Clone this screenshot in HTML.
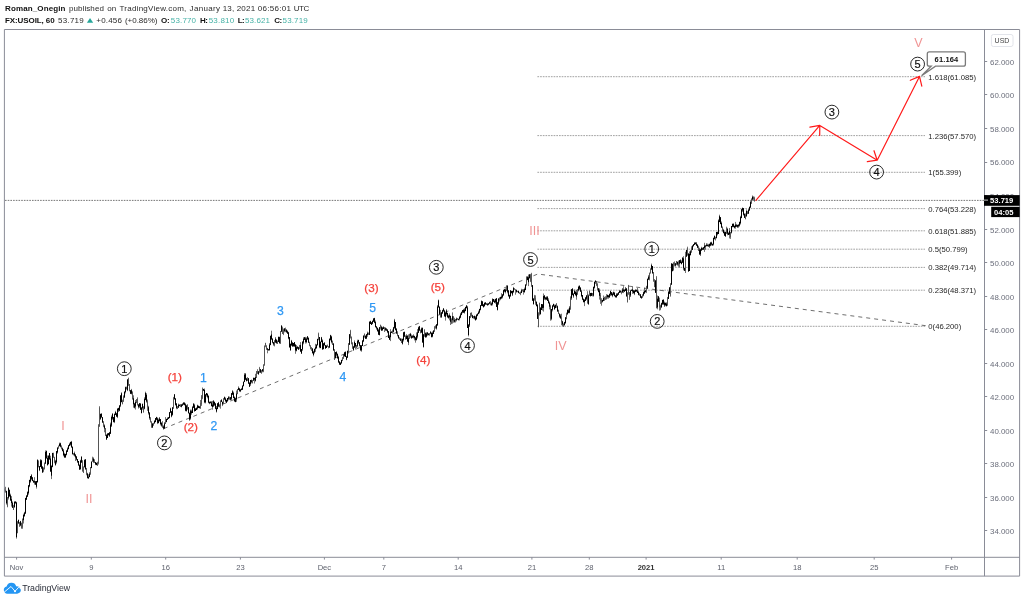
<!DOCTYPE html>
<html><head><meta charset="utf-8"><title>FX:USOIL chart</title><style>
html,body{margin:0;padding:0;background:#fff}
body{width:1024px;height:601px;position:relative;overflow:hidden;font-family:"Liberation Sans",sans-serif}
#chart{position:absolute;left:0;top:0}
.hs{position:absolute;white-space:pre;font-size:8px;color:#2a2a2a;line-height:10px}
.hb{font-weight:bold;color:#111}
.hs.g{color:#45b1a6}
.hd b{color:#222}
.hd .g{color:#3dafa3}
.hd span{position:absolute;top:0}
svg text{font-family:"Liberation Sans",sans-serif}
.fib{stroke:#979797;stroke-width:0.9;stroke-dasharray:1.7 1}
.cur{stroke:#555;stroke-width:1;stroke-dasharray:1.6 1.1;stroke-opacity:0.8}
.fibt{font-size:7.7px;fill:#262626}
.trend{fill:none;stroke:#4a4a4a;stroke-width:0.8;stroke-dasharray:4 4}
.bd{fill:none;stroke:#000;stroke-width:1}
.bl{fill:none;stroke:#555;stroke-width:1}
.wk{fill:none;stroke:#000;stroke-opacity:0.55;stroke-width:1}
.arr{fill:none;stroke:#ff1a1a;stroke-width:1.2;stroke-linecap:round}
.cc{fill:#fff;fill-opacity:0;stroke:#111;stroke-width:0.9}
.ct{font-size:11px;fill:#111;stroke:#111;stroke-width:0.2;text-anchor:middle}
.rt{font-size:11.7px;fill:#f5413a;stroke:#f5413a;stroke-width:0.25;text-anchor:middle}
.bt{font-size:12.2px;fill:#2f98f4;stroke:#2f98f4;stroke-width:0.25;text-anchor:middle}
.ro{font-size:12.5px;fill:#f09494;text-anchor:middle}
.co{fill:#fff;stroke:#7a7a7a;stroke-width:1.3}
.cot{font-size:7.5px;letter-spacing:0.15px;font-weight:bold;fill:#111;text-anchor:middle}
.fr{fill:none;stroke:#8a8c97;stroke-width:1}
.tk{stroke:#8a8c97;stroke-width:1}
.ax{font-size:7.9px;fill:#6b6e7b}
.axm{font-size:7.6px;fill:#5d606c;text-anchor:middle}
.b{font-weight:bold;fill:#333}
.usd{fill:#fff;stroke:#e2e4ea;stroke-width:1}
.usdt{font-size:7px;fill:#444;text-anchor:middle}
.pb{font-size:7.6px;font-weight:bold;fill:#fff;text-anchor:middle}
.tv{position:absolute;left:22.2px;top:583.2px;font-size:8.8px;line-height:11px;color:#2a2e39;letter-spacing:-0.05px}
</style></head><body>
<svg id="chart" width="1024" height="601" viewBox="0 0 1024 601"><line x1="537.4" x2="925" y1="76.7" y2="76.7" class="fib"/><text x="928.3" y="79.6" class="fibt">1.618(61.085)</text><line x1="537.4" x2="925" y1="135.6" y2="135.6" class="fib"/><text x="928.3" y="138.5" class="fibt">1.236(57.570)</text><line x1="537.4" x2="925" y1="172.3" y2="172.3" class="fib"/><text x="928.3" y="175.2" class="fibt">1(55.399)</text><line x1="537.4" x2="925" y1="208.6" y2="208.6" class="fib"/><text x="928.3" y="211.5" class="fibt">0.764(53.228)</text><line x1="537.4" x2="925" y1="230.8" y2="230.8" class="fib"/><text x="928.3" y="233.7" class="fibt">0.618(51.885)</text><line x1="537.4" x2="925" y1="249.2" y2="249.2" class="fib"/><text x="928.3" y="252.1" class="fibt">0.5(50.799)</text><line x1="537.4" x2="925" y1="267.4" y2="267.4" class="fib"/><text x="928.3" y="270.3" class="fibt">0.382(49.714)</text><line x1="537.4" x2="925" y1="290.2" y2="290.2" class="fib"/><text x="928.3" y="293.1" class="fibt">0.236(48.371)</text><line x1="537.4" x2="925" y1="326.3" y2="326.3" class="fib"/><text x="928.3" y="329.2" class="fibt">0(46.200)</text><line x1="5" x2="984" y1="200.4" y2="200.4" class="cur"/><path d="M163.8 428.6L537.8 274L928 326" class="trend"/><path d="M4.5 487.8V492.5M5.5 486.8V492.7M6.5 490.9V504.6M7.5 497.2V507.3M8.5 487.2V499.5M9.5 489.8V496.7M10.5 493.7V501.0M11.5 496.1V506.6M12.5 501.4V507.8M13.5 504.9V510.0M14.5 501.2V507.5M15.5 501.5V503.8M16.5 501.8V538.6M17.5 521.1V533.3M18.5 519.8V524.0M19.5 522.3V526.6M20.5 520.9V526.2M21.5 522.6V528.5M22.5 518.4V528.8M23.5 513.7V523.5M24.5 511.8V516.8M25.5 497.8V513.6M26.5 495.5V499.7M27.5 491.4V496.7M28.5 485.3V494.7M29.5 479.7V487.2M30.5 476.1V482.7M31.5 474.1V480.2M32.5 477.3V481.2M33.5 480.5V482.5M34.5 477.2V484.6M35.5 481.0V485.0M36.5 481.0V488.6M37.5 459.2V482.3M38.5 460.3V467.2M39.5 466.2V471.1M40.5 459.1V466.9M41.5 459.7V469.0M42.5 466.0V472.6M43.5 467.4V472.2M44.5 462.6V469.3M45.5 450.4V463.7M46.5 450.5V458.4M47.5 455.5V465.5M48.5 455.5V464.2M49.5 453.0V459.7M50.5 455.7V471.8M51.5 465.7V479.1M52.5 452.8V467.3M53.5 452.7V457.6M54.5 456.8V463.3M55.5 459.9V465.7M56.5 451.1V463.6M57.5 447.4V453.6M58.5 445.7V448.8M59.5 442.6V446.2M60.5 442.7V447.4M61.5 445.4V449.4M62.5 447.5V451.2M63.5 449.0V456.3M64.5 452.8V457.5M65.5 453.9V457.5M66.5 450.5V455.4M67.5 447.4V451.8M68.5 445.2V449.2M69.5 442.8V446.1M70.5 441.9V445.6M71.5 440.9V447.5M72.5 446.2V454.7M73.5 453.3V455.4M74.5 451.6V456.5M75.5 454.5V461.0M76.5 456.4V460.3M77.5 459.1V463.0M78.5 461.0V465.9M79.5 464.4V469.8M80.5 459.8V469.7M81.5 456.6V462.6M82.5 460.1V471.7M83.5 466.4V472.8M84.5 459.4V467.4M85.5 459.3V469.4M86.5 467.9V475.3M87.5 472.8V478.5M88.5 474.3V478.5M89.5 472.2V477.1M90.5 467.0V474.9M91.5 461.6V468.1M92.5 456.7V461.7M93.5 457.4V463.1M94.5 459.2V463.0M95.5 462.1V465.1M96.5 462.6V465.1M97.5 461.7V466.0M98.5 424.1V464.5M99.5 406.2V426.8M100.5 413.6V419.9M101.5 413.6V417.5M102.5 417.2V422.6M103.5 421.4V427.2M104.5 424.4V432.3M105.5 428.1V435.9M106.5 434.7V440.0M107.5 433.5V438.1M108.5 433.1V435.5M109.5 431.9V437.0M110.5 422.6V433.8M111.5 415.5V427.0M112.5 413.3V419.8M113.5 417.1V422.4M114.5 413.7V423.1M115.5 410.8V414.9M116.5 412.8V416.6M117.5 408.6V418.1M118.5 407.9V412.0M119.5 405.4V411.2M120.5 395.4V407.1M121.5 392.3V402.4M122.5 399.6V404.2M123.5 395.4V401.7M124.5 391.4V398.0M125.5 386.6V393.4M126.5 386.8V389.3M127.5 379.2V391.1M128.5 377.7V385.8M129.5 384.1V391.2M130.5 390.2V393.8M131.5 388.9V394.4M132.5 391.3V399.5M133.5 395.3V407.7M134.5 402.9V408.4M135.5 400.0V409.6M136.5 399.0V403.1M137.5 397.3V405.3M138.5 404.4V408.6M139.5 403.2V407.9M140.5 403.2V409.7M141.5 407.0V413.2M142.5 403.6V409.7M143.5 406.1V412.7M144.5 397.3V409.3M145.5 391.7V400.2M146.5 393.2V402.6M147.5 399.5V410.9M148.5 405.8V414.6M149.5 412.0V419.7M150.5 417.4V422.3M151.5 421.2V427.9M152.5 423.0V427.9M153.5 422.9V425.7M154.5 420.3V423.5M155.5 418.1V422.1M156.5 416.8V420.2M157.5 417.5V424.1M158.5 418.6V423.4M159.5 417.0V421.5M160.5 419.1V425.4M161.5 422.3V426.7M162.5 421.1V427.9M163.5 425.3V429.6M164.5 422.1V428.5M165.5 417.1V423.9M166.5 418.8V422.1M167.5 417.3V419.9M168.5 417.2V418.9M169.5 412.2V418.3M170.5 407.7V412.7M171.5 411.3V417.3M172.5 407.1V415.6M173.5 396.9V408.9M174.5 394.3V399.8M175.5 398.4V405.6M176.5 403.1V409.2M177.5 406.3V409.1M178.5 403.6V407.7M179.5 404.5V406.3M180.5 404.1V406.8M181.5 404.3V407.4M182.5 403.2V405.8M183.5 402.0V404.6M184.5 402.6V405.2M185.5 403.3V411.3M186.5 404.9V411.6M187.5 404.5V409.7M188.5 407.2V413.3M189.5 412.8V420.8M190.5 409.5V419.7M191.5 409.7V414.7M192.5 406.1V413.0M193.5 403.4V407.8M194.5 403.8V411.9M195.5 408.3V411.0M196.5 407.3V410.1M197.5 404.7V409.6M198.5 405.8V408.0M199.5 406.4V408.2M200.5 400.0V408.9M201.5 395.0V405.9M202.5 387.5V399.2M203.5 388.8V391.1M204.5 388.5V403.2M205.5 394.4V403.4M206.5 393.0V396.6M207.5 393.7V398.3M208.5 395.7V403.2M209.5 401.8V404.2M210.5 401.6V403.5M211.5 401.1V406.2M212.5 400.9V409.7M213.5 400.0V407.0M214.5 401.6V406.0M215.5 403.4V409.2M216.5 406.4V412.5M217.5 403.3V409.1M218.5 401.9V407.1M219.5 404.3V407.2M220.5 400.5V408.7M221.5 399.6V401.9M222.5 401.8V406.1M223.5 398.4V403.8M224.5 396.5V400.0M225.5 397.5V401.9M226.5 399.8V402.7M227.5 398.0V401.4M228.5 396.1V400.3M229.5 396.6V399.5M230.5 397.2V400.3M231.5 393.1V400.0M232.5 390.2V395.0M233.5 391.6V398.1M234.5 396.4V401.6M235.5 397.7V402.3M236.5 390.5V401.8M237.5 389.0V394.1M238.5 386.4V389.9M239.5 387.9V391.5M240.5 389.4V392.1M241.5 387.9V390.1M242.5 385.6V389.7M243.5 381.7V386.2M244.5 373.1V382.1M245.5 373.0V380.1M246.5 377.9V381.2M247.5 377.1V380.7M248.5 378.2V383.7M249.5 382.0V387.0M250.5 380.0V385.9M251.5 379.5V383.3M252.5 380.1V383.5M253.5 377.8V380.7M254.5 377.9V383.5M255.5 373.8V381.5M256.5 371.0V377.9M257.5 369.2V374.0M258.5 371.2V374.4M259.5 366.9V372.5M260.5 369.2V372.8M261.5 370.3V373.8M262.5 369.2V372.3M263.5 364.5V372.2M264.5 345.5V365.7M265.5 342.9V347.2M266.5 345.5V349.7M267.5 347.9V353.3M268.5 349.2V350.4M269.5 343.1V350.3M270.5 335.8V345.1M271.5 330.7V339.5M272.5 338.5V343.3M273.5 342.1V345.7M274.5 340.0V346.4M275.5 337.1V342.9M276.5 339.4V343.8M277.5 340.5V343.9M278.5 336.6V341.9M279.5 336.7V343.8M280.5 331.1V344.0M281.5 325.5V331.8M282.5 326.6V334.0M283.5 328.6V335.1M284.5 328.4V332.3M285.5 327.6V332.1M286.5 329.6V332.8M287.5 330.4V334.0M288.5 331.9V339.3M289.5 337.1V347.4M290.5 343.7V350.9M291.5 339.9V345.9M292.5 342.0V346.9M293.5 343.0V346.8M294.5 342.1V346.8M295.5 344.5V353.8M296.5 345.1V351.4M297.5 346.6V348.7M298.5 346.9V349.7M299.5 344.9V349.2M300.5 342.1V351.9M301.5 349.0V353.7M302.5 341.3V350.9M303.5 337.3V344.3M304.5 337.2V339.9M305.5 336.9V343.5M306.5 337.3V343.3M307.5 336.3V340.0M308.5 337.6V342.7M309.5 341.8V346.3M310.5 345.4V349.4M311.5 347.3V351.0M312.5 348.3V353.3M313.5 350.8V356.4M314.5 348.8V353.5M315.5 343.8V351.9M316.5 344.5V348.6M317.5 338.9V345.3M318.5 332.6V340.3M319.5 337.0V348.2M320.5 341.7V348.1M321.5 336.9V342.3M322.5 339.4V349.5M323.5 343.3V349.2M324.5 342.5V345.4M325.5 345.2V348.7M326.5 345.6V348.0M327.5 344.5V346.8M328.5 346.1V348.4M329.5 338.3V347.8M330.5 334.8V340.6M331.5 335.7V343.4M332.5 340.5V344.9M333.5 343.4V350.7M334.5 349.1V359.9M335.5 352.1V358.2M336.5 351.2V356.1M337.5 353.5V358.4M338.5 355.8V362.5M339.5 361.3V364.6M340.5 362.6V365.0M341.5 359.9V363.4M342.5 357.3V361.1M343.5 354.1V358.7M344.5 351.9V356.8M345.5 351.7V357.0M346.5 356.2V360.2M347.5 350.8V357.7M348.5 343.1V353.5M349.5 334.2V345.0M350.5 329.8V338.5M351.5 336.7V344.3M352.5 342.2V348.8M353.5 345.9V350.8M354.5 340.4V347.6M355.5 343.0V349.5M356.5 345.0V348.0M357.5 339.7V347.3M358.5 339.9V343.9M359.5 342.3V346.6M360.5 345.2V351.1M361.5 345.3V351.7M362.5 340.3V346.0M363.5 335.3V342.1M364.5 333.7V337.7M365.5 335.7V338.9M366.5 334.1V339.1M367.5 331.6V336.8M368.5 332.5V334.9M369.5 321.1V334.9M370.5 320.7V324.0M371.5 322.3V324.9M372.5 320.7V324.2M373.5 318.1V321.7M374.5 317.8V323.2M375.5 320.6V327.3M376.5 326.4V329.7M377.5 327.7V331.6M378.5 328.8V335.0M379.5 327.2V335.2M380.5 324.8V329.5M381.5 325.8V330.7M382.5 326.9V330.9M383.5 326.2V329.0M384.5 327.3V332.0M385.5 327.3V331.1M386.5 328.0V330.6M387.5 329.5V333.2M388.5 331.2V337.9M389.5 334.9V339.9M390.5 329.1V341.1M391.5 331.2V332.9M392.5 329.5V333.7M393.5 326.9V332.5M394.5 318.9V328.8M395.5 322.1V330.2M396.5 328.0V334.0M397.5 331.2V336.2M398.5 335.1V338.4M399.5 337.3V339.8M400.5 338.5V341.1M401.5 338.5V343.0M402.5 338.5V344.6M403.5 331.9V341.5M404.5 331.8V336.9M405.5 335.3V339.5M406.5 334.2V339.1M407.5 335.6V342.0M408.5 334.4V345.1M409.5 333.9V338.7M410.5 332.9V337.7M411.5 334.5V339.0M412.5 335.1V338.1M413.5 334.3V338.4M414.5 335.9V340.4M415.5 337.4V342.7M416.5 332.4V340.2M417.5 329.1V338.5M418.5 326.6V332.8M419.5 325.9V331.0M420.5 329.6V333.2M421.5 327.5V332.6M422.5 327.7V342.9M423.5 334.3V347.6M424.5 329.5V336.8M425.5 332.4V337.4M426.5 332.2V337.5M427.5 332.4V335.8M428.5 333.5V335.2M429.5 333.0V335.4M430.5 331.5V334.2M431.5 332.4V337.2M432.5 331.5V337.3M433.5 330.5V333.8M434.5 326.1V332.0M435.5 325.5V328.7M436.5 324.3V329.6M437.5 305.2V325.9M438.5 299.6V307.4M439.5 306.4V315.2M440.5 309.9V317.4M441.5 312.1V318.0M442.5 309.8V313.7M443.5 308.4V311.4M444.5 309.8V316.8M445.5 312.6V320.6M446.5 309.2V315.6M447.5 312.8V317.6M448.5 314.8V318.3M449.5 313.4V320.4M450.5 315.6V325.0M451.5 318.3V324.1M452.5 312.4V323.6M453.5 316.4V322.7M454.5 317.8V322.6M455.5 319.0V322.5M456.5 317.5V321.4M457.5 318.1V319.7M458.5 318.8V320.2M459.5 315.8V320.4M460.5 312.9V318.2M461.5 311.6V315.2M462.5 310.1V313.3M463.5 308.9V312.7M464.5 308.1V313.6M465.5 306.9V311.1M466.5 305.4V308.2M467.5 305.9V328.0M468.5 324.3V336.4M469.5 316.2V327.0M470.5 312.9V318.1M471.5 312.5V316.4M472.5 314.8V318.1M473.5 316.1V318.7M474.5 315.8V319.4M475.5 316.0V320.8M476.5 314.6V319.9M477.5 313.6V316.2M478.5 310.7V314.1M479.5 308.9V313.4M480.5 305.2V310.4M481.5 300.4V305.8M482.5 301.0V306.1M483.5 304.0V307.3M484.5 302.3V306.3M485.5 302.4V304.5M486.5 303.2V305.0M487.5 302.9V305.7M488.5 303.3V305.2M489.5 301.7V304.2M490.5 301.1V305.3M491.5 302.4V305.4M492.5 298.3V305.4M493.5 299.0V302.0M494.5 299.5V303.1M495.5 298.9V303.7M496.5 298.0V306.9M497.5 301.9V310.5M498.5 298.0V305.0M499.5 297.6V301.5M500.5 296.9V300.2M501.5 293.2V299.1M502.5 294.4V298.4M503.5 289.6V295.6M504.5 289.2V292.3M505.5 288.4V293.4M506.5 285.2V290.9M507.5 285.0V293.3M508.5 290.4V296.8M509.5 294.6V299.0M510.5 290.1V296.4M511.5 290.9V293.2M512.5 290.7V296.0M513.5 286.9V292.4M514.5 288.4V289.7M515.5 289.3V294.7M516.5 289.7V292.7M517.5 290.9V292.1M518.5 290.8V293.1M519.5 292.5V293.7M520.5 291.7V295.2M521.5 288.8V293.1M522.5 289.1V291.3M523.5 289.0V294.6M524.5 287.6V292.4M525.5 284.5V290.1M526.5 276.6V285.4M527.5 276.1V280.1M528.5 274.5V286.1M529.5 274.0V278.3M530.5 273.9V282.1M531.5 272.8V286.6M532.5 285.0V300.9M533.5 298.4V304.3M534.5 294.9V300.7M535.5 295.3V304.8M536.5 301.7V306.2M537.5 304.0V318.9M538.5 312.2V327.3M539.5 302.8V315.5M540.5 307.3V314.3M541.5 304.0V310.0M542.5 304.3V310.5M543.5 293.5V311.6M544.5 295.2V299.9M545.5 296.9V300.3M546.5 296.3V299.9M547.5 296.0V301.0M548.5 298.3V303.3M549.5 301.5V309.4M550.5 304.7V320.7M551.5 309.0V320.2M552.5 305.3V311.4M553.5 303.8V306.5M554.5 304.5V309.8M555.5 304.4V308.1M556.5 303.0V307.8M557.5 305.5V312.0M558.5 309.6V314.1M559.5 313.6V317.7M560.5 314.1V318.7M561.5 313.7V325.2M562.5 320.8V326.1M563.5 323.6V327.0M564.5 321.8V325.3M565.5 317.3V323.6M566.5 312.6V319.3M567.5 309.7V314.4M568.5 308.7V313.3M569.5 306.1V313.3M570.5 296.3V309.9M571.5 289.0V299.9M572.5 288.5V295.3M573.5 293.6V297.8M574.5 289.4V294.1M575.5 291.1V295.3M576.5 289.9V299.7M577.5 289.2V294.9M578.5 285.8V291.4M579.5 285.2V290.0M580.5 287.1V291.7M581.5 290.2V297.2M582.5 295.0V300.1M583.5 298.4V302.2M584.5 299.2V306.1M585.5 297.4V300.9M586.5 295.4V300.1M587.5 291.2V303.6M588.5 294.4V304.4M589.5 290.8V296.0M590.5 292.9V296.4M591.5 292.9V295.9M592.5 293.1V296.4M593.5 286.8V296.6M594.5 281.7V288.6M595.5 280.0V283.9M596.5 281.0V286.1M597.5 283.3V290.2M598.5 288.3V292.4M599.5 288.5V299.6M600.5 292.9V303.9M601.5 298.2V305.7M602.5 299.9V302.5M603.5 295.5V301.1M604.5 296.8V300.9M605.5 296.2V299.9M606.5 294.1V299.3M607.5 294.7V298.7M608.5 295.4V298.7M609.5 293.8V297.7M610.5 290.7V296.1M611.5 292.2V295.7M612.5 292.6V297.2M613.5 291.5V295.1M614.5 291.9V296.2M615.5 295.4V297.3M616.5 293.1V297.9M617.5 293.5V295.8M618.5 292.3V294.7M619.5 290.6V292.9M620.5 290.6V292.4M621.5 291.1V294.3M622.5 288.0V292.5M623.5 286.2V293.1M624.5 289.3V291.7M625.5 287.0V290.9M626.5 288.4V296.7M627.5 292.5V302.6M628.5 284.9V294.9M629.5 292.2V300.0M630.5 290.5V297.0M631.5 289.7V290.9M632.5 286.2V293.9M633.5 290.3V293.6M634.5 290.3V295.1M635.5 289.7V291.8M636.5 289.8V291.7M637.5 288.0V292.9M638.5 291.2V295.3M639.5 293.1V295.9M640.5 294.1V297.9M641.5 296.0V298.8M642.5 294.4V297.6M643.5 291.6V296.3M644.5 287.6V293.6M645.5 289.8V292.4M646.5 285.8V293.1M647.5 278.4V288.9M648.5 275.2V280.0M649.5 272.6V280.4M650.5 268.5V273.4M651.5 263.6V269.8M652.5 266.0V273.4M653.5 272.0V281.5M654.5 279.0V287.1M655.5 280.1V292.8M656.5 276.1V308.2M657.5 295.5V309.3M658.5 296.3V301.7M659.5 297.6V310.6M660.5 304.7V310.2M661.5 302.7V307.8M662.5 299.9V304.8M663.5 299.6V305.0M664.5 301.6V307.0M665.5 302.8V306.1M666.5 302.3V306.4M667.5 296.9V305.5M668.5 292.1V298.9M669.5 287.2V293.8M670.5 283.1V296.7M671.5 263.2V284.7M672.5 263.8V271.2M673.5 262.5V270.7M674.5 261.4V266.3M675.5 263.3V266.6M676.5 261.0V265.1M677.5 261.8V265.6M678.5 260.6V266.7M679.5 260.2V267.6M680.5 259.3V263.1M681.5 260.3V264.5M682.5 257.2V263.0M683.5 256.2V270.3M684.5 268.0V270.8M685.5 251.8V273.0M686.5 250.0V256.9M687.5 246.7V255.7M688.5 253.5V271.5M689.5 251.4V271.0M690.5 250.2V255.6M691.5 246.3V252.5M692.5 245.0V250.0M693.5 244.2V246.4M694.5 242.1V244.9M695.5 242.4V244.5M696.5 242.0V245.8M697.5 244.4V247.9M698.5 245.8V251.0M699.5 247.8V254.8M700.5 249.3V256.0M701.5 246.8V250.7M702.5 247.6V249.9M703.5 247.3V249.6M704.5 242.8V251.9M705.5 245.3V249.6M706.5 243.2V246.2M707.5 243.6V246.2M708.5 243.9V246.5M709.5 243.8V247.9M710.5 241.9V246.2M711.5 241.7V245.6M712.5 243.8V245.5M713.5 237.5V245.5M714.5 235.4V239.5M715.5 236.9V240.5M716.5 231.9V238.2M717.5 231.6V235.4M718.5 219.4V234.0M719.5 214.7V222.2M720.5 217.2V224.1M721.5 221.5V228.0M722.5 226.7V231.7M723.5 228.9V233.5M724.5 231.3V235.7M725.5 231.7V236.9M726.5 226.7V234.0M727.5 227.8V235.3M728.5 232.7V235.0M729.5 228.0V238.4M730.5 232.0V238.9M731.5 226.0V233.5M732.5 223.8V227.3M733.5 223.7V227.3M734.5 225.8V228.5M735.5 221.9V228.7M736.5 223.9V226.9M737.5 224.7V228.0M738.5 224.2V227.7M739.5 221.6V226.5M740.5 215.8V224.5M741.5 209.2V218.1M742.5 207.8V211.9M743.5 208.2V215.6M744.5 213.4V218.0M745.5 213.4V219.2M746.5 209.5V216.4M747.5 210.9V214.1M748.5 209.3V213.7M749.5 206.4V210.8M750.5 200.9V207.6M751.5 198.6V203.9M752.5 195.5V200.7M753.5 196.3V199.9M754.5 196.7V201.7" class="wk"/><path d="M5.5 490.1V491.8M7.5 497.2V506.4M13.5 506.5V510.0M17.5 521.9V532.9M19.5 522.3V526.6M21.5 523.0V528.4M22.5 519.0V527.4M38.5 461.1V467.2M43.5 467.8V471.1M44.5 462.8V469.3M53.5 453.2V457.6M54.5 457.2V462.1M58.5 445.7V448.4M61.5 445.8V448.8M73.5 453.3V454.7M82.5 461.3V471.2M83.5 466.9V472.8M86.5 468.2V474.3M90.5 467.0V474.0M92.5 458.2V461.7M94.5 460.4V462.9M97.5 462.4V465.0M98.5 425.2V463.2M99.5 407.5V426.4M103.5 421.4V426.2M105.5 428.1V435.9M122.5 400.6V404.2M123.5 396.7V401.6M126.5 386.8V389.3M128.5 378.5V385.4M129.5 384.1V391.2M132.5 392.1V399.3M136.5 399.2V402.9M137.5 398.5V405.3M143.5 407.0V412.1M147.5 401.2V407.3M150.5 417.4V422.3M151.5 421.8V427.2M153.5 422.9V425.4M162.5 424.9V427.3M165.5 420.5V423.9M173.5 398.2V408.3M177.5 406.3V408.9M180.5 404.7V406.8M187.5 404.5V408.9M200.5 403.1V408.2M201.5 396.2V404.4M202.5 388.7V397.8M219.5 404.8V407.2M220.5 400.5V405.8M223.5 398.4V403.3M229.5 397.5V399.5M237.5 389.0V394.1M247.5 378.6V380.7M252.5 380.4V383.0M256.5 371.3V377.9M257.5 371.2V373.2M259.5 368.2V372.5M261.5 370.3V373.1M263.5 364.5V371.4M264.5 345.8V365.3M265.5 342.9V346.3M266.5 345.5V349.5M274.5 341.0V345.5M277.5 341.0V343.8M280.5 331.1V343.1M282.5 327.8V333.7M283.5 329.7V333.8M285.5 328.9V331.3M299.5 345.4V348.3M309.5 341.9V345.7M310.5 345.4V348.7M311.5 347.3V349.4M318.5 333.7V339.8M327.5 345.3V346.8M328.5 346.1V347.6M332.5 341.2V344.9M334.5 349.7V359.8M342.5 357.4V360.8M343.5 354.8V358.7M348.5 343.6V352.0M350.5 330.7V337.6M351.5 336.7V344.1M352.5 343.0V348.4M356.5 345.0V347.6M364.5 333.7V337.0M368.5 332.9V334.5M380.5 324.8V328.0M384.5 327.3V328.7M392.5 330.9V332.8M397.5 332.5V336.2M399.5 337.6V339.6M401.5 339.2V343.0M405.5 336.2V339.5M409.5 333.9V338.7M420.5 329.9V333.2M424.5 329.5V335.7M429.5 333.2V335.4M434.5 326.9V331.0M435.5 325.6V327.8M440.5 313.1V317.4M451.5 319.4V323.2M453.5 316.4V320.8M455.5 319.0V321.1M457.5 318.5V319.7M470.5 312.9V317.2M471.5 312.7V316.4M473.5 316.1V317.6M486.5 303.2V305.0M490.5 302.5V304.1M499.5 297.6V300.1M506.5 286.0V290.8M514.5 288.4V289.7M515.5 289.3V290.8M517.5 290.9V292.1M519.5 292.5V293.7M520.5 291.8V294.2M522.5 290.1V291.3M526.5 276.6V285.4M530.5 275.2V281.1M531.5 273.9V286.6M534.5 296.2V299.7M535.5 298.1V302.8M538.5 313.3V326.8M539.5 302.8V314.0M550.5 306.0V319.4M556.5 304.0V306.4M558.5 310.0V313.9M561.5 317.4V322.2M563.5 323.7V325.8M566.5 313.3V319.0M570.5 297.6V309.0M577.5 289.2V294.2M587.5 294.1V303.3M589.5 290.8V295.5M592.5 293.1V295.3M596.5 281.4V285.0M597.5 283.8V289.8M600.5 295.0V301.0M601.5 300.1V303.0M604.5 297.3V299.7M605.5 297.7V299.5M606.5 296.3V299.3M621.5 291.9V293.1M627.5 292.5V302.0M628.5 286.1V294.0M629.5 292.2V298.8M639.5 293.9V295.1M642.5 294.5V297.6M646.5 286.6V291.7M649.5 272.9V279.1M650.5 268.5V273.4M653.5 272.1V281.5M654.5 280.1V287.1M656.5 277.5V308.2M659.5 300.3V307.4M660.5 305.8V309.0M667.5 297.5V305.5M670.5 284.3V295.7M673.5 262.5V269.9M674.5 262.7V264.9M676.5 261.0V263.9M678.5 262.6V265.3M685.5 255.6V270.7M687.5 248.1V255.2M691.5 248.6V252.5M698.5 246.7V250.8M715.5 236.9V239.5M722.5 226.7V230.5M726.5 228.1V233.1M730.5 232.3V237.1M745.5 214.9V219.2M747.5 211.9V214.1M751.5 198.6V203.3M753.5 197.1V199.0M754.5 198.1V200.7" class="bl"/><path d="M4.5 489.2V490.4M6.5 490.9V503.3M8.5 488.0V497.8M9.5 489.8V496.3M10.5 495.2V500.3M11.5 499.2V503.1M12.5 502.7V507.8M14.5 501.9V507.3M15.5 501.5V503.1M16.5 502.5V537.2M18.5 519.8V523.2M20.5 521.2V525.4M23.5 515.0V520.2M24.5 512.7V515.9M25.5 498.1V513.6M26.5 495.5V499.7M27.5 492.2V496.7M28.5 485.3V493.2M29.5 480.0V486.2M30.5 476.1V481.6M31.5 475.3V478.9M32.5 477.3V481.0M33.5 480.5V482.5M34.5 481.1V482.5M35.5 481.4V484.6M36.5 481.0V486.8M37.5 460.0V482.3M39.5 466.2V470.2M40.5 460.3V466.9M41.5 460.4V468.3M42.5 466.9V472.6M45.5 452.0V463.7M46.5 451.0V458.4M47.5 458.0V465.2M48.5 455.7V464.2M49.5 453.0V459.4M50.5 458.5V471.5M51.5 465.7V475.7M52.5 453.0V466.9M55.5 461.2V464.9M56.5 451.1V462.2M57.5 447.6V452.4M59.5 443.7V446.2M60.5 443.3V446.7M62.5 448.3V451.2M63.5 450.6V455.2M64.5 454.0V457.5M65.5 453.9V457.5M66.5 450.5V454.8M67.5 448.5V451.8M68.5 445.3V449.2M69.5 444.0V446.1M70.5 441.9V444.6M71.5 441.8V447.4M72.5 447.0V454.0M74.5 453.1V455.5M75.5 454.5V457.5M76.5 456.4V459.5M77.5 459.1V461.8M78.5 461.0V465.3M79.5 464.9V469.6M80.5 460.6V469.1M81.5 456.6V462.6M84.5 460.1V467.2M85.5 459.3V469.4M87.5 473.6V477.9M88.5 476.8V478.5M89.5 473.7V477.1M91.5 461.6V468.1M93.5 458.7V461.6M95.5 462.1V464.4M96.5 463.0V465.1M100.5 414.0V418.9M101.5 413.6V417.4M102.5 417.2V422.6M104.5 425.5V428.5M106.5 434.7V439.4M107.5 433.5V438.0M108.5 433.1V435.1M109.5 432.4V435.8M110.5 424.5V433.8M111.5 417.0V425.7M112.5 413.8V418.6M113.5 417.1V421.9M114.5 413.8V421.9M115.5 412.0V414.9M116.5 413.4V416.6M117.5 408.6V416.8M118.5 407.9V410.4M119.5 405.4V410.7M120.5 395.4V405.7M121.5 393.3V402.0M124.5 391.7V397.3M125.5 387.2V392.0M127.5 379.5V390.2M130.5 390.2V393.8M131.5 390.2V393.7M133.5 398.3V404.3M134.5 403.6V407.7M135.5 401.9V406.5M138.5 404.4V407.2M139.5 403.2V406.4M140.5 403.7V409.7M141.5 407.8V413.2M142.5 403.9V408.2M144.5 398.9V408.7M145.5 392.9V399.9M146.5 394.8V401.5M148.5 407.2V413.2M149.5 412.8V418.2M152.5 423.8V427.5M154.5 420.8V423.4M155.5 418.1V422.1M156.5 417.1V419.7M157.5 418.4V422.8M158.5 420.0V423.0M159.5 418.4V421.1M160.5 419.1V424.0M161.5 422.8V425.7M163.5 426.5V428.6M164.5 423.5V428.5M166.5 419.0V422.1M167.5 418.4V419.9M168.5 417.2V418.9M169.5 412.2V418.0M170.5 408.5V412.7M171.5 411.3V416.5M172.5 407.4V414.8M174.5 394.3V399.0M175.5 398.4V404.9M176.5 403.6V407.9M178.5 404.7V407.7M179.5 404.8V406.0M181.5 404.5V406.8M182.5 404.2V405.6M183.5 402.9V404.6M184.5 402.6V405.2M185.5 404.3V410.7M186.5 405.6V410.9M188.5 407.2V413.3M189.5 412.8V419.7M190.5 410.6V418.5M191.5 411.3V413.1M192.5 407.2V413.0M193.5 403.6V407.8M194.5 405.3V410.9M195.5 408.5V411.0M196.5 408.0V410.0M197.5 405.4V408.5M198.5 405.8V408.0M199.5 406.4V408.2M203.5 389.0V390.6M204.5 389.9V402.3M205.5 394.4V402.4M206.5 393.0V395.0M207.5 393.7V396.9M208.5 395.7V402.5M209.5 401.8V403.4M210.5 401.6V403.0M211.5 402.3V406.2M212.5 404.6V407.1M213.5 401.2V405.9M214.5 401.9V404.8M215.5 403.4V408.8M216.5 407.9V411.6M217.5 403.3V409.1M218.5 402.6V406.1M221.5 399.6V401.9M222.5 401.8V404.5M224.5 397.1V399.3M225.5 398.5V401.2M226.5 399.9V402.7M227.5 398.0V401.4M228.5 397.2V398.9M230.5 397.2V399.8M231.5 393.2V398.7M232.5 391.3V394.6M233.5 392.9V398.1M234.5 397.2V401.3M235.5 398.3V402.0M236.5 393.6V399.4M238.5 387.9V389.9M239.5 388.6V391.3M240.5 389.4V391.2M241.5 388.9V390.1M242.5 385.6V389.7M243.5 381.7V386.2M244.5 374.7V381.9M245.5 374.2V379.6M246.5 378.5V381.2M248.5 378.2V383.7M249.5 383.0V386.7M250.5 380.0V384.2M251.5 380.3V381.9M253.5 377.8V380.7M254.5 377.9V379.6M255.5 377.1V380.8M258.5 371.3V374.4M260.5 369.2V372.5M262.5 369.2V371.2M267.5 348.5V349.8M268.5 349.2V350.4M269.5 344.6V350.3M270.5 335.8V345.1M271.5 334.5V339.5M272.5 338.6V342.5M273.5 342.1V344.4M275.5 338.7V342.4M276.5 339.8V343.0M278.5 336.9V341.9M279.5 337.1V343.0M281.5 325.5V331.7M284.5 328.4V331.1M286.5 329.6V332.2M287.5 331.2V333.5M288.5 332.4V338.4M289.5 337.1V347.4M290.5 343.8V350.1M291.5 340.8V345.3M292.5 342.8V346.3M293.5 343.0V346.1M294.5 342.1V346.3M295.5 344.5V350.5M296.5 347.2V350.7M297.5 346.6V348.6M298.5 347.3V349.7M300.5 345.1V351.5M301.5 349.0V353.6M302.5 341.7V349.4M303.5 338.8V342.7M304.5 337.2V339.9M305.5 338.4V342.0M306.5 338.7V342.1M307.5 336.3V339.1M308.5 337.8V342.7M312.5 348.5V353.3M313.5 351.7V355.0M314.5 348.8V352.4M315.5 347.2V349.2M316.5 344.6V348.2M317.5 338.9V345.3M319.5 337.0V347.2M320.5 341.7V348.1M321.5 337.4V342.0M322.5 340.5V349.5M323.5 343.3V349.1M324.5 342.5V345.4M325.5 345.2V348.6M326.5 345.6V348.0M329.5 338.9V347.5M330.5 335.2V339.9M331.5 336.6V342.1M333.5 343.5V350.4M335.5 352.1V358.2M336.5 352.1V354.6M337.5 353.9V358.4M338.5 357.1V362.5M339.5 361.6V364.6M340.5 362.6V364.9M341.5 359.9V363.4M344.5 352.4V356.0M345.5 351.7V357.0M346.5 356.5V359.7M347.5 350.8V357.7M349.5 334.2V344.7M353.5 346.6V350.1M354.5 342.0V347.6M355.5 343.0V346.4M357.5 341.1V345.8M358.5 339.9V342.6M359.5 342.3V345.7M360.5 345.2V350.1M361.5 345.4V350.4M362.5 340.5V346.0M363.5 335.8V341.3M365.5 335.7V338.7M366.5 334.3V338.4M367.5 332.9V335.0M369.5 322.0V334.9M370.5 321.2V324.0M371.5 322.3V324.9M372.5 320.8V323.7M373.5 318.6V321.7M374.5 318.1V322.7M375.5 322.0V327.2M376.5 326.4V328.3M377.5 327.8V331.2M378.5 330.1V334.6M379.5 327.2V335.2M381.5 326.9V330.6M382.5 327.8V330.1M383.5 327.2V329.0M385.5 328.2V329.9M386.5 329.2V330.6M387.5 329.5V332.2M388.5 331.2V337.9M389.5 336.4V339.7M390.5 332.2V337.2M391.5 331.7V332.9M393.5 327.4V331.8M394.5 320.5V327.9M395.5 322.1V330.2M396.5 329.1V333.3M398.5 335.3V338.4M400.5 338.5V340.7M402.5 339.0V343.8M403.5 332.4V340.1M404.5 331.8V336.6M406.5 335.8V339.1M407.5 335.6V341.4M408.5 338.1V342.6M410.5 333.8V336.1M411.5 336.1V338.0M412.5 336.1V337.6M413.5 335.7V337.2M414.5 335.9V338.3M415.5 337.4V340.1M416.5 335.8V340.2M417.5 332.3V336.6M418.5 327.4V332.8M419.5 326.2V330.4M421.5 328.5V332.6M422.5 327.8V342.3M423.5 334.3V346.9M425.5 333.2V337.4M426.5 333.5V336.7M427.5 332.4V334.6M428.5 333.5V335.2M430.5 331.6V333.5M431.5 332.9V337.2M432.5 332.9V336.5M433.5 330.5V333.8M436.5 324.3V328.5M437.5 306.6V325.2M438.5 300.4V307.4M439.5 306.8V313.9M441.5 312.4V316.9M442.5 310.3V313.5M443.5 308.4V311.4M444.5 310.7V316.1M445.5 312.6V316.9M446.5 310.4V314.1M447.5 312.9V317.2M448.5 315.8V318.3M449.5 315.2V317.4M450.5 316.0V321.8M452.5 316.2V320.2M454.5 319.8V321.8M456.5 318.6V320.2M458.5 318.8V320.2M459.5 316.8V319.1M460.5 314.4V317.6M461.5 312.1V314.9M462.5 310.1V312.5M463.5 309.9V312.7M464.5 309.6V312.5M465.5 306.9V311.1M466.5 305.4V308.2M467.5 307.4V328.0M468.5 324.6V335.0M469.5 316.2V325.5M472.5 315.3V318.1M474.5 315.8V318.4M475.5 317.4V320.0M476.5 314.6V319.0M477.5 313.6V315.6M478.5 312.2V314.1M479.5 308.9V312.4M480.5 305.2V309.8M481.5 301.1V305.8M482.5 301.5V306.1M483.5 304.6V307.3M484.5 303.0V306.3M485.5 302.4V304.5M487.5 304.0V305.2M488.5 303.3V304.7M489.5 302.2V303.6M491.5 303.5V305.4M492.5 299.3V304.1M493.5 299.0V301.6M494.5 300.8V302.6M495.5 298.9V302.2M496.5 298.3V306.9M497.5 302.4V309.9M498.5 298.9V303.7M500.5 296.9V299.0M501.5 296.5V298.2M502.5 294.4V297.2M503.5 290.2V295.4M504.5 289.2V291.4M505.5 289.7V292.0M507.5 286.0V291.9M508.5 290.4V296.0M509.5 295.2V298.4M510.5 290.4V296.4M511.5 290.9V293.2M512.5 291.0V294.6M513.5 288.0V292.4M516.5 289.9V291.9M518.5 290.8V293.1M521.5 290.2V293.0M523.5 290.6V291.8M524.5 289.0V292.3M525.5 284.5V290.1M527.5 277.1V280.1M528.5 277.5V282.2M529.5 274.5V278.3M532.5 285.2V300.6M533.5 298.5V304.3M536.5 301.7V306.2M537.5 305.1V318.9M540.5 307.7V314.3M541.5 304.0V310.0M542.5 304.3V308.0M543.5 296.1V307.8M544.5 295.5V298.5M545.5 297.6V299.2M546.5 297.4V299.5M547.5 297.1V300.9M548.5 300.3V303.3M549.5 302.7V306.7M551.5 309.0V318.8M552.5 305.5V309.8M553.5 303.9V306.5M554.5 305.8V309.2M555.5 305.0V308.1M557.5 306.2V311.2M559.5 313.7V316.5M560.5 315.6V318.4M562.5 321.4V324.5M564.5 322.1V325.3M565.5 317.3V323.2M567.5 309.8V314.4M568.5 310.3V312.9M569.5 307.6V312.7M571.5 289.3V298.3M572.5 288.5V294.9M573.5 293.6V296.4M574.5 290.9V294.0M575.5 292.0V295.3M576.5 292.6V296.5M578.5 286.9V290.3M579.5 286.0V288.8M580.5 287.8V291.7M581.5 291.4V296.1M582.5 295.1V299.5M583.5 299.0V302.2M584.5 299.8V302.2M585.5 297.4V300.9M586.5 295.4V298.8M588.5 295.5V304.4M590.5 293.0V296.2M591.5 292.9V295.9M593.5 286.8V295.7M594.5 281.8V287.7M595.5 281.0V282.2M598.5 288.3V291.9M599.5 290.5V295.8M602.5 299.9V301.8M603.5 298.0V300.9M607.5 294.9V297.1M608.5 295.4V297.2M609.5 293.8V297.4M610.5 291.1V294.5M611.5 292.2V295.0M612.5 293.8V295.8M613.5 292.1V294.6M614.5 292.9V296.2M615.5 295.4V297.3M616.5 294.4V297.1M617.5 293.5V295.8M618.5 292.4V294.7M619.5 290.6V292.9M620.5 290.7V292.4M622.5 289.5V292.5M623.5 289.6V291.1M624.5 289.9V291.7M625.5 288.7V290.9M626.5 288.4V296.3M630.5 290.5V295.5M631.5 289.7V290.9M632.5 289.4V291.5M633.5 290.4V293.1M634.5 290.6V293.6M635.5 289.7V291.8M636.5 289.8V291.4M637.5 290.6V292.9M638.5 291.9V294.8M640.5 294.4V297.6M641.5 296.6V298.2M643.5 292.3V295.4M644.5 291.0V293.6M645.5 290.4V292.2M647.5 279.0V287.9M648.5 276.7V279.5M651.5 265.1V269.5M652.5 266.0V273.4M655.5 280.5V292.8M657.5 298.7V307.5M658.5 296.3V301.7M661.5 303.2V307.3M662.5 299.9V304.3M663.5 299.6V303.9M664.5 302.8V305.5M665.5 302.8V305.0M666.5 303.5V306.2M668.5 292.1V298.9M669.5 287.4V293.8M671.5 263.5V284.7M672.5 263.8V271.2M675.5 263.3V265.7M677.5 261.8V264.5M679.5 260.2V263.7M680.5 260.2V263.1M681.5 261.8V264.0M682.5 257.8V262.6M683.5 258.4V268.3M684.5 268.0V270.8M686.5 250.0V256.6M688.5 253.5V271.5M689.5 254.0V271.0M690.5 251.3V255.0M692.5 245.9V249.9M693.5 244.2V246.2M694.5 243.1V244.9M695.5 242.6V244.0M696.5 243.5V245.6M697.5 244.7V247.7M699.5 249.6V254.4M700.5 249.4V254.4M701.5 247.9V250.5M702.5 248.4V249.6M703.5 247.3V249.6M704.5 245.6V248.0M705.5 245.5V246.7M706.5 244.7V246.2M707.5 245.0V246.2M708.5 245.3V246.5M709.5 243.8V246.4M710.5 242.7V245.6M711.5 242.5V244.5M712.5 243.8V245.5M713.5 238.0V244.4M714.5 236.0V238.9M716.5 232.0V238.2M717.5 232.1V234.2M718.5 220.5V234.0M719.5 216.2V222.0M720.5 217.2V224.1M721.5 222.9V227.4M723.5 230.0V233.0M724.5 232.2V235.7M725.5 232.0V236.3M727.5 229.0V233.7M728.5 232.7V235.0M729.5 231.0V234.5M731.5 226.0V232.7M732.5 223.8V226.8M733.5 223.7V226.9M734.5 225.8V227.8M735.5 224.6V227.0M736.5 225.1V226.5M737.5 225.0V226.9M738.5 224.8V226.4M739.5 222.1V225.6M740.5 217.1V223.3M741.5 209.3V218.1M742.5 207.8V210.5M743.5 208.2V214.7M744.5 213.9V217.8M746.5 211.0V216.4M748.5 209.6V213.7M749.5 207.0V210.4M750.5 202.1V207.6M752.5 196.8V199.5" class="bd"/><path d="M755.9 200.3L819.8 125.4M819.8 125.4L809.9 127.1M819.8 125.4L819.7 135.4M819.8 125.4L877.2 160.2M877.2 160.2L874.0 150.7M877.2 160.2L867.3 161.7M877.2 160.2L919.5 76.4M919.5 76.4L910.3 80.3M919.5 76.4L921.8 86.1" class="arr"/><circle cx="124.3" cy="368.7" r="6.9" class="cc"/><text x="124.3" y="372.7" class="ct">1</text><circle cx="164.4" cy="442.9" r="6.9" class="cc"/><text x="164.4" y="446.9" class="ct">2</text><circle cx="436.3" cy="267.3" r="6.9" class="cc"/><text x="436.3" y="271.3" class="ct">3</text><circle cx="467.5" cy="345.6" r="6.9" class="cc"/><text x="467.5" y="349.6" class="ct">4</text><circle cx="530.5" cy="259.5" r="6.9" class="cc"/><text x="530.5" y="263.5" class="ct">5</text><circle cx="651.7" cy="248.9" r="6.9" class="cc"/><text x="651.7" y="252.9" class="ct">1</text><circle cx="657.2" cy="321.4" r="6.9" class="cc"/><text x="657.2" y="325.4" class="ct">2</text><circle cx="831.9" cy="112.1" r="6.9" class="cc"/><text x="831.9" y="116.1" class="ct">3</text><circle cx="876.6" cy="172.1" r="6.9" class="cc"/><text x="876.6" y="176.1" class="ct">4</text><circle cx="917.6" cy="64.1" r="6.9" class="cc"/><text x="917.6" y="68.1" class="ct">5</text><text x="174.8" y="381" class="rt">(1)</text><text x="190.8" y="431.3" class="rt">(2)</text><text x="371.5" y="291.7" class="rt">(3)</text><text x="423.3" y="363.8" class="rt">(4)</text><text x="437.8" y="291.4" class="rt">(5)</text><text x="203.5" y="382.0" class="bt">1</text><text x="213.9" y="429.7" class="bt">2</text><text x="280.5" y="315.2" class="bt">3</text><text x="343" y="380.7" class="bt">4</text><text x="372.7" y="311.5" class="bt">5</text><text x="63.1" y="429.8" class="ro">I</text><text x="88.9" y="503.1" class="ro">II</text><text x="534.5" y="235.3" class="ro">III</text><text x="560.7" y="349.9" class="ro">IV</text><text x="918.3" y="46.8" class="ro">V</text><path d="M929.3 51.9H963.4Q965.4 51.9 965.4 53.9V64.2Q965.4 66.2 963.4 66.2H935.5L921.6 75.8L931.2 66.2H929.3Q927.3 66.2 927.3 64.2V53.9Q927.3 51.9 929.3 51.9Z" class="co"/><text x="946.5" y="61.5" class="cot">61.164</text><path d="M4.4 29.5H1019.6V576.1H4.4ZM4.4 557.3H1019.6M984.5 29.5V576.1" class="fr"/><line x1="984.5" x2="987.2" y1="530.5" y2="530.5" class="tk"/><text x="990" y="534.3" class="ax">34.000</text><line x1="984.5" x2="987.2" y1="497.5" y2="497.5" class="tk"/><text x="990" y="500.8" class="ax">36.000</text><line x1="984.5" x2="987.2" y1="463.5" y2="463.5" class="tk"/><text x="990" y="467.2" class="ax">38.000</text><line x1="984.5" x2="987.2" y1="430.5" y2="430.5" class="tk"/><text x="990" y="433.7" class="ax">40.000</text><line x1="984.5" x2="987.2" y1="396.5" y2="396.5" class="tk"/><text x="990" y="400.2" class="ax">42.000</text><line x1="984.5" x2="987.2" y1="363.5" y2="363.5" class="tk"/><text x="990" y="366.6" class="ax">44.000</text><line x1="984.5" x2="987.2" y1="329.5" y2="329.5" class="tk"/><text x="990" y="333.1" class="ax">46.000</text><line x1="984.5" x2="987.2" y1="296.5" y2="296.5" class="tk"/><text x="990" y="299.5" class="ax">48.000</text><line x1="984.5" x2="987.2" y1="262.5" y2="262.5" class="tk"/><text x="990" y="266.0" class="ax">50.000</text><line x1="984.5" x2="987.2" y1="229.5" y2="229.5" class="tk"/><text x="990" y="232.5" class="ax">52.000</text><line x1="984.5" x2="987.2" y1="195.5" y2="195.5" class="tk"/><text x="990" y="198.9" class="ax">54.000</text><line x1="984.5" x2="987.2" y1="162.5" y2="162.5" class="tk"/><text x="990" y="165.4" class="ax">56.000</text><line x1="984.5" x2="987.2" y1="128.5" y2="128.5" class="tk"/><text x="990" y="131.9" class="ax">58.000</text><line x1="984.5" x2="987.2" y1="94.5" y2="94.5" class="tk"/><text x="990" y="98.3" class="ax">60.000</text><line x1="984.5" x2="987.2" y1="61.5" y2="61.5" class="tk"/><text x="990" y="64.8" class="ax">62.000</text><line x1="16.6" x2="16.6" y1="557.2" y2="559.6" class="tk"/><text x="16.6" y="570.3" class="axm">Nov</text><line x1="91.3" x2="91.3" y1="557.2" y2="559.6" class="tk"/><text x="91.3" y="570.3" class="axm">9</text><line x1="165.7" x2="165.7" y1="557.2" y2="559.6" class="tk"/><text x="165.7" y="570.3" class="axm">16</text><line x1="240.4" x2="240.4" y1="557.2" y2="559.6" class="tk"/><text x="240.4" y="570.3" class="axm">23</text><line x1="324.4" x2="324.4" y1="557.2" y2="559.6" class="tk"/><text x="324.4" y="570.3" class="axm">Dec</text><line x1="383.8" x2="383.8" y1="557.2" y2="559.6" class="tk"/><text x="383.8" y="570.3" class="axm">7</text><line x1="458.2" x2="458.2" y1="557.2" y2="559.6" class="tk"/><text x="458.2" y="570.3" class="axm">14</text><line x1="531.9" x2="531.9" y1="557.2" y2="559.6" class="tk"/><text x="531.9" y="570.3" class="axm">21</text><line x1="589.3" x2="589.3" y1="557.2" y2="559.6" class="tk"/><text x="589.3" y="570.3" class="axm">28</text><line x1="646.1" x2="646.1" y1="557.2" y2="559.6" class="tk"/><text x="646.1" y="570.3" class="axm b">2021</text><line x1="721.2" x2="721.2" y1="557.2" y2="559.6" class="tk"/><text x="721.2" y="570.3" class="axm">11</text><line x1="797.2" x2="797.2" y1="557.2" y2="559.6" class="tk"/><text x="797.2" y="570.3" class="axm">18</text><line x1="874.2" x2="874.2" y1="557.2" y2="559.6" class="tk"/><text x="874.2" y="570.3" class="axm">25</text><line x1="951.6" x2="951.6" y1="557.2" y2="559.6" class="tk"/><text x="951.6" y="570.3" class="axm">Feb</text><rect x="991.4" y="34.5" width="21.6" height="12" rx="2" class="usd"/><text x="1002" y="43.3" class="usdt">USD</text><rect x="984" y="195.1" width="35.7" height="10.7" fill="#000"/><line x1="984" x2="988" y1="200.1" y2="200.1" stroke="#fff" stroke-width="0.8"/><text x="1001.7" y="203.3" class="pb">53.719</text><rect x="991.2" y="206.8" width="28.5" height="10.3" fill="#000"/><text x="1003.8" y="214.7" class="pb">04:05</text><path d="M86.9 22.7L90 18L93.2 22.7Z" fill="#26a69a"/><path d="M7.6 593.7A3.6 3.6 0 0 1 6.6 586.6A5 5 0 0 1 16.2 586.2A4.7 3.8 0 0 1 17.2 593.7Z" fill="#2496f3"/><path d="M4.2 592.2L11 586.5L15 591.3L18.8 587.1L21.6 589.6" fill="none" stroke="#fff" stroke-width="0.9" stroke-linejoin="round"/><circle cx="15" cy="591.2" r="1" fill="#fff"/></svg>
<span class="hs hb" style="left:5px;top:4.3px;letter-spacing:0.123px">Roman_Onegin</span><span class="hs" style="left:68.9px;top:4.3px;letter-spacing:0.094px">published</span><span class="hs" style="left:107.2px;top:4.3px;letter-spacing:0.197px">on</span><span class="hs" style="left:119.5px;top:4.3px;letter-spacing:0.241px">TradingView.com,</span><span class="hs" style="left:189.6px;top:4.3px;letter-spacing:0.333px">January</span><span class="hs" style="left:222.8px;top:4.3px;letter-spacing:0.125px">13,</span><span class="hs" style="left:236.7px;top:4.3px;letter-spacing:0.201px">2021</span><span class="hs" style="left:257.7px;top:4.3px;letter-spacing:0.307px">06:56:01</span><span class="hs" style="left:293.7px;top:4.3px;letter-spacing:-0.484px">UTC</span><span class="hs hb" style="left:5px;top:15.5px;letter-spacing:-0.099px">FX:USOIL, 60</span><span class="hs" style="left:58px;top:15.5px;letter-spacing:0.255px">53.719</span><span class="hs" style="left:96.3px;top:15.5px;letter-spacing:0.183px">+0.456</span><span class="hs" style="left:124.9px;top:15.5px;letter-spacing:-0.011px">(+0.86%)</span><span class="hs hb" style="left:161px;top:15.5px;letter-spacing:-0.145px">O:</span><span class="hs g" style="left:170.8px;top:15.5px;letter-spacing:0.155px">53.770</span><span class="hs hb" style="left:199.9px;top:15.5px;letter-spacing:-0.5px">H:</span><span class="hs g" style="left:208.7px;top:15.5px;letter-spacing:0.189px">53.810</span><span class="hs hb" style="left:237.7px;top:15.5px;letter-spacing:-0.5px">L:</span><span class="hs g" style="left:245px;top:15.5px;letter-spacing:0.089px">53.621</span><span class="hs hb" style="left:274.3px;top:15.5px;letter-spacing:-0.5px">C:</span><span class="hs g" style="left:282.6px;top:15.5px;letter-spacing:0.122px">53.719</span>
<div class="tv">TradingView</div>
</body></html>
